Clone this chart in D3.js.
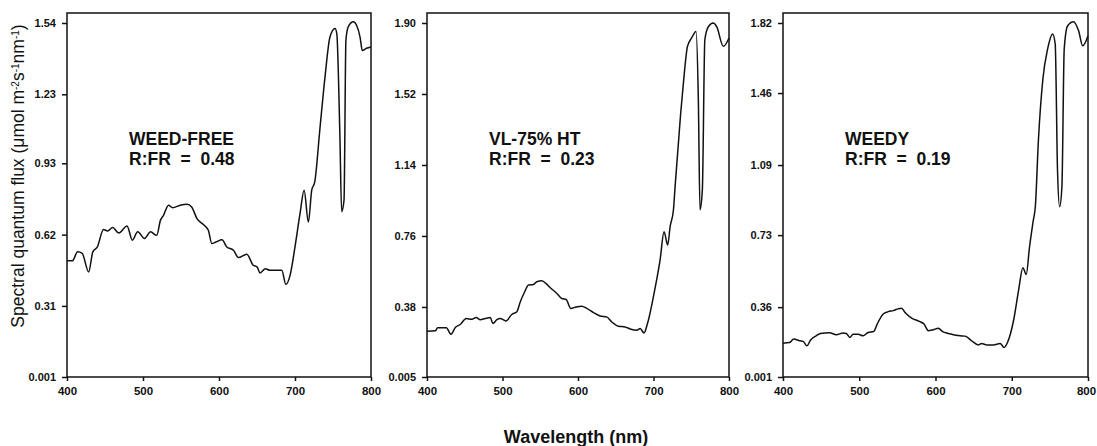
<!DOCTYPE html>
<html>
<head>
<meta charset="utf-8">
<script src="https://cdn.jsdelivr.net/npm/d3@7"></script>
<style>
  body { margin: 0; background: #fff; }
  svg { display: block; font-family: "Liberation Sans", Arial, sans-serif; }
  .axis path, .axis line { stroke: #111; stroke-width: 1.5; }
  .axis text { fill: #111; font-weight: bold; }
  .frame { fill: none; stroke: #111; stroke-width: 1.5; }
  .curve { fill: none; stroke: #111; stroke-width: 1.5; }
  .note { font-weight: bold; font-size: 17.5px; fill: #111; }
</style>
</head>
<body>
<div id="chart"></div>
<script>
// wavelength ticks shared by all panels
var wlTicks = [400, 500, 600, 700, 800];

// WEED-FREE panel
var weedFreeWl   = [400, 407, 414, 420, 428.5, 434, 440, 448, 453.5, 460, 468, 479, 486, 493, 502, 510, 518, 523, 527, 533.6, 539, 549, 558, 564, 571, 580.5, 586, 590.6, 596, 604, 610, 619, 625.6, 636.6, 645, 650, 654, 661, 667, 678, 682.6, 688, 693.5, 700, 706.6, 712, 717.6, 722, 726, 733, 739.5, 746, 752.7, 755, 759, 761.4, 764.5, 767, 770, 776.8, 781, 785.6, 788.6, 794, 800];
var weedFreeFlux = [0.506, 0.506, 0.545, 0.538, 0.458, 0.545, 0.567, 0.642, 0.636, 0.651, 0.627, 0.658, 0.596, 0.632, 0.603, 0.632, 0.617, 0.683, 0.704, 0.748, 0.737, 0.748, 0.752, 0.74, 0.69, 0.661, 0.639, 0.581, 0.588, 0.598, 0.567, 0.552, 0.52, 0.535, 0.487, 0.48, 0.453, 0.472, 0.465, 0.465, 0.465, 0.404, 0.443, 0.567, 0.711, 0.813, 0.675, 0.813, 0.849, 1.088, 1.306, 1.479, 1.516, 1.494, 1.06, 0.72, 0.77, 1.465, 1.523, 1.545, 1.53, 1.479, 1.42, 1.43, 1.436];
var weedFreeTicks = [0.001, 0.31, 0.62, 0.93, 1.23, 1.54];

// VL-75% HT panel
var vlWl   = [400, 411, 414, 425.6, 431.8, 437.5, 444, 452, 459.5, 465, 470.6, 477, 483.8, 487.3, 492.6, 497, 504.5, 512.5, 519, 523.5, 528.8, 534.5, 541, 545.5, 552, 556.6, 563, 572, 578.6, 584.3, 590.5, 597.6, 605, 611.7, 620.5, 629.3, 638, 644.7, 653.6, 662.4, 669, 678, 682.3, 687.5, 692, 702, 708.7, 714, 718.8, 722, 726.4, 728.6, 736, 739.6, 745, 750.5, 756.3, 759.4, 761.6, 764.7, 768, 772.6, 779.3, 783.7, 792.5, 800];
var vlFlux = [0.25, 0.252, 0.268, 0.268, 0.234, 0.27, 0.286, 0.318, 0.314, 0.323, 0.312, 0.318, 0.323, 0.291, 0.312, 0.318, 0.305, 0.341, 0.354, 0.407, 0.456, 0.497, 0.5, 0.515, 0.52, 0.509, 0.484, 0.452, 0.425, 0.42, 0.372, 0.38, 0.384, 0.372, 0.35, 0.332, 0.327, 0.3, 0.277, 0.273, 0.262, 0.255, 0.264, 0.241, 0.291, 0.479, 0.631, 0.783, 0.711, 0.81, 0.899, 1.024, 1.417, 1.578, 1.775, 1.82, 1.855, 1.489, 0.9, 1.006, 1.81, 1.88, 1.9, 1.88, 1.775, 1.82];
var vlTicks = [0.005, 0.38, 0.76, 1.14, 1.52, 1.90];

// WEEDY panel
var weedyWl   = [400, 408.8, 414, 422, 426.3, 431.5, 436, 443.8, 449, 461, 470, 478.8, 483, 487.6, 492, 498.6, 505, 511.7, 519, 523.5, 531.4, 538, 544.6, 551, 555.5, 560, 568.7, 578.7, 585, 590.6, 597, 603.7, 609.4, 617, 623.4, 632.2, 638.8, 647.5, 656.3, 660.7, 667.3, 676, 684.8, 690, 694.4, 702.3, 708.9, 714.6, 719, 723.3, 728, 731, 735, 740.8, 747, 753.6, 757, 760, 762.8, 765.8, 768.8, 773.3, 781, 787.7, 793, 800];
var weedyFlux = [0.175, 0.178, 0.196, 0.187, 0.184, 0.161, 0.19, 0.213, 0.225, 0.228, 0.218, 0.227, 0.225, 0.204, 0.221, 0.221, 0.213, 0.23, 0.235, 0.273, 0.325, 0.337, 0.342, 0.351, 0.354, 0.333, 0.304, 0.287, 0.273, 0.239, 0.244, 0.251, 0.234, 0.225, 0.218, 0.213, 0.211, 0.187, 0.166, 0.173, 0.166, 0.166, 0.173, 0.153, 0.178, 0.29, 0.445, 0.563, 0.528, 0.669, 0.8, 0.88, 1.22, 1.531, 1.686, 1.764, 1.712, 1.066, 0.876, 0.98, 1.686, 1.806, 1.827, 1.78, 1.703, 1.755];
var weedyTicks = [0.001, 0.36, 0.73, 1.09, 1.46, 1.82];

var labels1 = ["WEED-FREE", "VL-75% HT", "WEEDY"];
var labels2 = ["R:FR = 0.48", "R:FR = 0.23", "R:FR = 0.19"];

var width = 1097, height = 446;
var frameTop = 13, plotTop = 23, plotBottom = 377;

// horizontal placement of each panel
var panels = [
	{left: 67, right: 371, wl: weedFreeWl, flux: weedFreeFlux, ticks: weedFreeTicks},
	{left: 427, right: 729, wl: vlWl, flux: vlFlux, ticks: vlTicks},
	{left: 783, right: 1088, wl: weedyWl, flux: weedyFlux, ticks: weedyTicks}
];
var fmt = d3.format(".2f");

var svg = d3.select("#chart").append("svg")
	.attr("width", width)
	.attr("height", height);

panels.forEach(function(p, i) {
	var x = d3.scaleLinear().domain([400, 800]).range([p.left, p.right]);
	var y = d3.scaleLinear()
		.domain([p.ticks[0], p.ticks[p.ticks.length - 1]])
		.range([plotBottom, plotTop]);

	var g = svg.append("g");

	//frame round the plot
	g.append("rect")
		.attr("class", "frame")
		.attr("x", p.left)
		.attr("y", frameTop)
		.attr("width", p.right - p.left)
		.attr("height", plotBottom - frameTop);

	//y axis
	g.append("g")
		.attr("class", "axis")
		.attr("transform", "translate(" + p.left + ",0)")
		.call(d3.axisLeft(y).tickValues(p.ticks).tickSize(5).tickPadding(6)
			.tickFormat(function(d) { return d < 0.01 ? String(d) : fmt(d); }))
		.call(function(a) { a.select(".domain").remove(); })
		.selectAll("text").style("font-size", "11px");

	//x axis
	var xa = g.append("g")
		.attr("class", "axis")
		.attr("transform", "translate(0," + plotBottom + ")")
		.call(d3.axisBottom(x).tickValues(wlTicks).tickSize(4).tickPadding(6))
		.call(function(a) { a.select(".domain").remove(); });
	xa.selectAll("text").style("font-size", "11.5px");
	if (i == panels.length - 1)
		xa.selectAll("text").filter(function(d) { return d == 800; }).attr("dx", -2);

	//spectrum
	var line = d3.line()
		.x(function(d, k) { return x(p.wl[k]); })
		.y(function(d) { return y(d); })
		.curve(d3.curveMonotoneX);
	g.append("path")
		.attr("class", "curve")
		.attr("d", line(p.flux));

	//treatment note
	g.append("text").attr("class", "note")
		.attr("x", p.left + 62).attr("y", 145)
		.text(labels1[i]);
	g.append("text").attr("class", "note")
		.attr("x", p.left + 62).attr("y", 165)
		.attr("xml:space", "preserve")
		.text(labels2[i].replace("=", " = "));
});

//y title
var yTitle = svg.append("text")
	.attr("transform", "translate(24,176) rotate(-90)")
	.attr("text-anchor", "middle")
	.style("font-size", "17.5px")
	.style("fill", "#111");
yTitle.append("tspan").text("Spectral quantum flux (\u03bcmol m");
yTitle.append("tspan").attr("baseline-shift", "super").style("font-size", "10px").text("-2");
yTitle.append("tspan").text("s");
yTitle.append("tspan").attr("baseline-shift", "super").style("font-size", "10px").text("-1");
yTitle.append("tspan").text("nm");
yTitle.append("tspan").attr("baseline-shift", "super").style("font-size", "10px").text("-1");
yTitle.append("tspan").text(")");

//x title
svg.append("text")
	.attr("x", 576)
	.attr("y", 443)
	.attr("text-anchor", "middle")
	.style("font-size", "18px")
	.style("font-weight", "bold")
	.style("fill", "#111")
	.text("Wavelength (nm)");
</script>
</body>
</html>
